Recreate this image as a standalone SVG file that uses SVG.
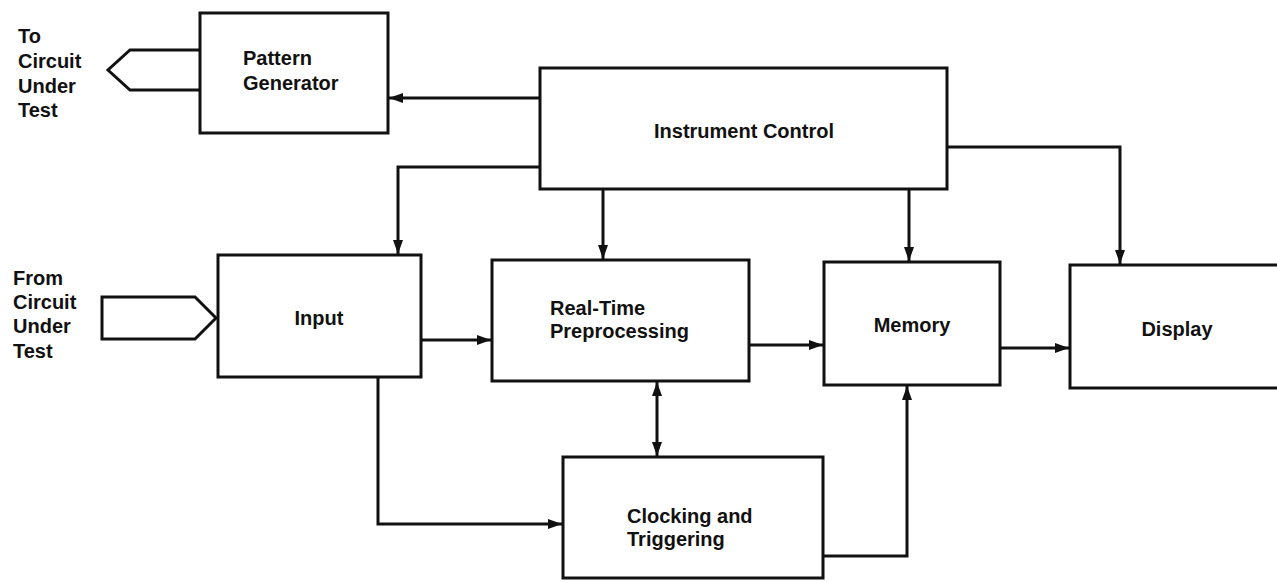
<svg xmlns="http://www.w3.org/2000/svg" width="1277" height="582" viewBox="0 0 1277 582">
<defs>
<style>
.box{fill:#fff;stroke:#111;stroke-width:3}
.ln{fill:none;stroke:#111;stroke-width:3}
.t{font-family:"Liberation Sans",Arial,sans-serif;font-weight:bold;font-size:20px;fill:#111}
.c{text-anchor:middle}
</style>
<marker id="ah" viewBox="0 0 14 10" refX="14" refY="5" markerWidth="14" markerHeight="10" markerUnits="userSpaceOnUse" orient="auto">
<path d="M0,0 L14,5 L0,10 Z" fill="#111"/>
</marker>
<marker id="as" viewBox="0 0 14 10" refX="0" refY="5" markerWidth="14" markerHeight="10" markerUnits="userSpaceOnUse" orient="auto">
<path d="M14,0 L0,5 L14,10 Z" fill="#111"/>
</marker>
</defs>
<rect width="1277" height="582" fill="#fff"/>
<g id="connectors">
<path class="ln" d="M540,98 H389" marker-end="url(#ah)"/>
<path class="ln" d="M540,167 H398 V254" marker-end="url(#ah)"/>
<path class="ln" d="M603,189 V259" marker-end="url(#ah)"/>
<path class="ln" d="M909,189 V261" marker-end="url(#ah)"/>
<path class="ln" d="M947,147 H1120 V264" marker-end="url(#ah)"/>
<path class="ln" d="M421,340 H491" marker-end="url(#ah)"/>
<path class="ln" d="M749,345 H823" marker-end="url(#ah)"/>
<path class="ln" d="M1000,348 H1069" marker-end="url(#ah)"/>
<path class="ln" d="M657,382 V456" marker-start="url(#as)" marker-end="url(#ah)"/>
<path class="ln" d="M378,377 V524 H562" marker-end="url(#ah)"/>
<path class="ln" d="M823,556 H907 V386" marker-end="url(#ah)"/>
</g>
<g id="to-circuit">
<polyline class="ln" points="200,50 130,50 108,70 130,90 200,90"/>
<text class="t" x="18"><tspan x="18" y="43">To</tspan><tspan x="18" y="68">Circuit</tspan><tspan x="18" y="93">Under</tspan><tspan x="18" y="117">Test</tspan></text>
</g>
<g id="from-circuit">
<polygon class="ln" points="102,297 195,297 216,318 195,339 102,339"/>
<text class="t" x="13"><tspan x="13" y="285">From</tspan><tspan x="13" y="309">Circuit</tspan><tspan x="13" y="333">Under</tspan><tspan x="13" y="358">Test</tspan></text>
</g>
<g id="pattern-generator">
<rect class="box" x="200" y="13" width="188" height="120"/>
<text class="t"><tspan x="243" y="65">Pattern</tspan><tspan x="243" y="90">Generator</tspan></text>
</g>
<g id="instrument-control">
<rect class="box" x="540" y="68" width="407" height="121"/>
<text class="t c" x="744" y="138">Instrument Control</text>
</g>
<g id="input">
<rect class="box" x="218" y="255" width="203" height="122"/>
<text class="t c" x="319" y="325">Input</text>
</g>
<g id="real-time-preprocessing">
<rect class="box" x="492" y="260" width="257" height="121"/>
<text class="t"><tspan x="550" y="315">Real-Time</tspan><tspan x="550" y="338">Preprocessing</tspan></text>
</g>
<g id="memory">
<rect class="box" x="824" y="262" width="176" height="123"/>
<text class="t c" x="912" y="332">Memory</text>
</g>
<g id="display">
<rect class="box" x="1070" y="265" width="210" height="123"/>
<text class="t c" x="1177" y="336">Display</text>
</g>
<g id="clocking-triggering">
<rect class="box" x="563" y="457" width="260" height="121"/>
<text class="t"><tspan x="627" y="523">Clocking and</tspan><tspan x="627" y="546">Triggering</tspan></text>
</g>
</svg>
